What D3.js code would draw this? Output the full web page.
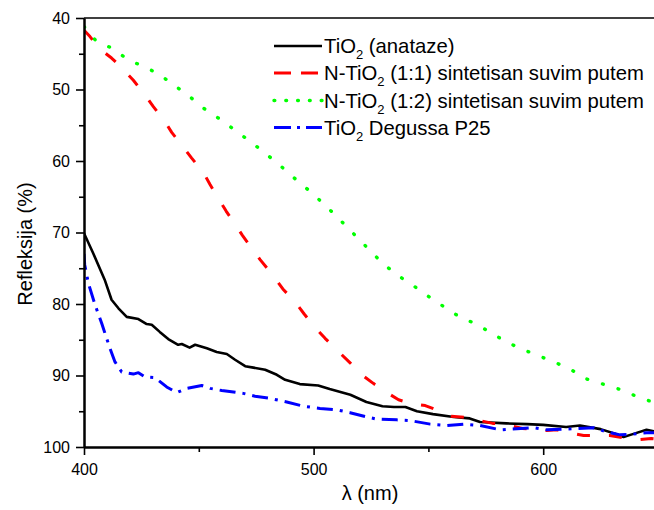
<!DOCTYPE html>
<html>
<head>
<meta charset="utf-8">
<script src="https://cdn.jsdelivr.net/npm/d3@7"></script>
<style>
  html, body { margin: 0; padding: 0; background: #fff; }
  svg { display: block; font-family: "Liberation Sans", Arial, Helvetica, sans-serif; }
</style>
</head>
<body>
<svg id="chart" width="654" height="510"></svg>
<script>
// ---- data ----
const anatazeX = [400,404,409,412,415,418.6,423.7,427.3,429.5,433,436.7,441,442.6,446,448.4,453.5,457.8,462.2,465.8,470.2,473.8,478.9,484,487.6,494,502,507,516,523,530,535,540,545,552,561,568,572.5,584,593,600,610,616,625,631,635,639,645,650];
const anatazeY = [70.1,72.9,76.6,79.4,80.6,81.8,82.1,82.8,82.9,83.9,84.9,85.7,85.6,86.1,85.7,86.2,86.7,87.0,87.8,88.7,88.9,89.2,89.9,90.6,91.2,91.4,91.9,92.7,93.7,94.3,94.4,94.4,95.0,95.4,95.8,96.0,96.5,96.7,96.8,96.9,97.2,97.0,97.5,98.1,98.6,98.2,97.6,97.9];

const n11X = [400,402.6,405,407.7,410,412,415,417.9,421.5,426.6,430.2,435.3,438.2,443.3,446.9,452,454.9,458.5,461.9,469,476.7,482.8,486.6,491.9,495.9,500.7,505,511,515.8,521,526,532,537,543.5,548.6,555,560,567,571,578,583,591,594,601.6,606,613,617.6,625,629,636.5,641,647,650];
const n11Y = [41.7,42.6,43.6,44.5,45.1,45.6,46.5,47.5,48.7,50.8,52.4,54.5,56.0,58.1,59.6,61.6,63.3,65.2,67.0,70.4,73.8,76.2,77.9,79.7,81.4,83.3,84.8,86.7,88.2,89.9,91.1,92.4,93.4,94.0,94.2,95.0,95.7,95.9,96.2,96.7,96.8,97.4,97.5,97.7,97.6,98.1,98.4,98.4,98.4,98.8,99.0,98.8,98.9];

const n12X = [400,405,411.3,418.3,425,432,438.8,445.3,452,459,465.8,472.5,479.3,486,492,499,505.7,511.7,517.8,523.9,530,536.7,543.7,550.3,557.3,563.6,570.8,577.6,584.5,591.4,598.4,605.4,612.2,619,626,633,639.8,646.6,650];
const n12Y = [41.2,43.1,44.1,45.6,46.7,47.7,49.3,50.8,52.6,54.1,55.7,57.3,59.0,60.8,62.5,64.4,66.4,68.3,70.3,72.3,74.3,76.0,77.5,79.0,80.5,81.8,82.8,84.1,85.4,86.4,87.3,88.2,89.2,90.5,91.2,91.9,92.8,93.6,93.9];

const p25X = [400,400.3,401.9,404.8,407.7,411.3,413.5,416.4,421.5,423.7,426.6,430.9,436,440.4,444.7,451.3,454.9,460,465.1,469.4,474.5,481,488.3,495.6,502.8,510.1,515.9,523.2,527.5,536.2,542,550.8,558,565.3,572.5,581.3,585.6,595.8,601.6,610.3,621.9,627.7,633.5,639.3,645.1,650];
const p25Y = [73.0,74.5,77.1,80.1,82.7,86.2,88.1,89.5,89.8,89.6,90.2,90.3,91.6,92.4,91.8,91.4,91.8,92.1,92.3,92.5,92.9,93.2,93.7,94.3,94.6,94.8,95.2,95.8,96.1,96.2,96.3,96.8,97.0,96.8,97.0,97.6,97.5,97.3,97.6,97.5,97.3,97.9,98.3,98.2,98.0,98.0];

const legendNames = [
  ["TiO", "2", " (anataze)"],
  ["N-TiO", "2", " (1:1) sintetisan suvim putem"],
  ["N-TiO", "2", " (1:2) sintetisan suvim putem"],
  ["TiO", "2", " Degussa P25"]
];
const xTicks = [400, 500, 600];
const xMinorTicks = [450, 550, 650];
const yTicks = [40, 50, 60, 70, 80, 90, 100];
const yMinorTicks = [45, 55, 65, 75, 85, 95];
const xTitle = "λ (nm)";
const yTitle = "Refleksija (%)";

// ---- layout ----
const svg = d3.select("#chart");
const L = 84, R = 658, T = 18, B = 447;
const x = d3.scaleLinear().domain([400, 650]).range([L, R]);
const y = d3.scaleLinear().domain([40, 100]).range([T, B]);

const series = [
  { xs: anatazeX, ys: anatazeY, color: "#000000", width: 2.6, dash: null, cap: "butt", ldash: null },
  { xs: n11X, ys: n11Y, color: "#ff0000", width: 3, dash: "13,19", cap: "butt", ldash: "17,10" },
  { xs: n12X, ys: n12Y, color: "#00ff00", width: 3.4, dash: "0.8,15.5", cap: "round", ldash: "0.8,11" },
  { xs: p25X, ys: p25Y, color: "#0000ff", width: 3, dash: "16,7,3,7", cap: "butt", ldash: "17,6,3,6" }
];

svg.append("defs").append("clipPath").attr("id", "plotclip")
  .append("rect").attr("x", L).attr("y", T - 2).attr("width", R - L).attr("height", B - T + 4);

const line = d3.line().x(d => x(d[0])).y(d => y(d[1]));
const g = svg.append("g").attr("clip-path", "url(#plotclip)");
series.forEach(s => {
  const pts = s.xs.map((v, i) => [v, s.ys[i]]);
  g.append("path")
    .attr("d", line(pts))
    .attr("fill", "none")
    .attr("stroke", s.color)
    .attr("stroke-width", s.width)
    .attr("stroke-linejoin", "round")
    .attr("stroke-linecap", s.cap)
    .attr("stroke-dasharray", s.dash);
});

// ---- axes ----
const yAxis = d3.axisLeft(y).tickValues(yTicks).tickSize(8).tickSizeOuter(0).tickPadding(6).tickFormat(d3.format("d"));
const yAxisMinor = d3.axisLeft(y).tickValues(yMinorTicks).tickSize(5).tickSizeOuter(0).tickFormat("");
const xAxis = d3.axisBottom(x).tickValues(xTicks).tickSize(8).tickSizeOuter(0).tickPadding(9).tickFormat(d3.format("d"));
const xAxisMinor = d3.axisBottom(x).tickValues(xMinorTicks).tickSize(5).tickSizeOuter(0).tickFormat("");

function styleAxis(sel) {
  sel.selectAll("path.domain").attr("stroke", "#000").attr("stroke-width", 2);
  sel.selectAll(".tick line").attr("stroke", "#000").attr("stroke-width", 1.6);
  sel.selectAll(".tick text").attr("fill", "#000").style("font-size", "16px")
    .style("font-family", "'Liberation Sans', Arial, sans-serif");
}
svg.append("g").attr("transform", `translate(${L},0)`).call(yAxisMinor).call(styleAxis);
svg.append("g").attr("transform", `translate(${L},0)`).call(yAxis).call(styleAxis);
svg.append("g").attr("transform", `translate(0,${B})`).call(xAxisMinor).call(styleAxis);
svg.append("g").attr("transform", `translate(0,${B})`).call(xAxis).call(styleAxis);

// top frame
svg.append("line").attr("x1", L).attr("x2", R).attr("y1", T).attr("y2", T)
  .attr("stroke", "#000").attr("stroke-width", 1.6);

// titles
svg.append("text").attr("x", 370).attr("y", 500).attr("text-anchor", "middle")
  .style("font-size", "20px").text(xTitle);
svg.append("text").attr("transform", "translate(32,244) rotate(-90)").attr("text-anchor", "middle")
  .style("font-size", "20px").text(yTitle);

// legend
const legY = [46, 73, 100.5, 127.5];
const leg = svg.append("g");
series.forEach((s, i) => {
  const yy = legY[i];
  leg.append("line").attr("x1", 274).attr("x2", 322).attr("y1", yy).attr("y2", yy)
    .attr("stroke", s.color).attr("stroke-width", s.width)
    .attr("stroke-linecap", s.cap).attr("stroke-dasharray", s.ldash);
  const t = leg.append("text").attr("x", 324).attr("y", yy + 7).style("font-size", "20.3px");
  t.append("tspan").text(legendNames[i][0]);
  t.append("tspan").attr("dy", 6).style("font-size", "13px").text(legendNames[i][1]);
  t.append("tspan").attr("dy", -6).text(legendNames[i][2]);
});
</script>
</body>
</html>
